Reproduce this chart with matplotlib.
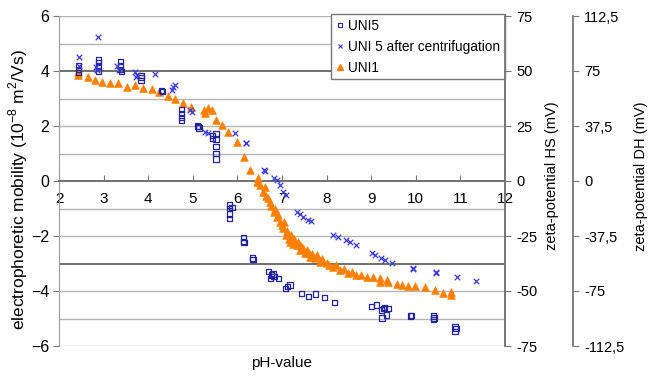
import matplotlib
matplotlib.use("Agg")
import matplotlib.pyplot as plt
from matplotlib.lines import Line2D

plt.rcParams['font.family'] = ['Liberation Sans', 'DejaVu Sans']

# ---------------- data ----------------
uni5_ph = [2.43, 2.43, 2.43, 2.88, 2.88, 2.88, 2.88, 3.37, 3.37, 3.37, 3.40,
           3.84, 3.84, 3.84, 4.30, 4.32, 4.75, 4.75, 4.75, 4.75, 5.12, 5.14, 5.10,
           5.45, 5.45, 5.52, 5.52, 5.52, 5.52, 5.52, 5.83, 5.83, 5.83, 5.83, 5.88,
           6.13, 6.13, 6.15, 6.33, 6.35, 6.69, 6.77, 6.82, 6.92, 6.75, 6.80,
           7.07, 7.18, 7.12, 7.44, 7.59, 7.76, 7.96, 8.17,
           9.01, 9.12, 9.23, 9.27, 9.38, 9.35, 9.24, 9.30, 9.88, 9.90,
           10.39, 10.39, 10.41, 10.88, 10.88, 10.90]
uni5_mob = [4.20, 4.05, 3.95, 4.40, 4.30, 4.15, 4.00, 4.35, 4.20, 4.05, 3.97,
            3.85, 3.75, 3.65, 3.30, 3.25, 2.60, 2.45, 2.30, 2.20, 1.97, 1.93, 2.00,
            1.55, 1.65, 1.73, 1.50, 1.25, 1.00, 0.80, -0.87, -1.00, -1.20, -1.35, -0.95,
            -2.05, -2.20, -2.25, -2.80, -2.85, -3.30, -3.42, -3.48, -3.54, -3.55, -3.38,
            -3.90, -3.78, -3.85, -4.08, -4.20, -4.11, -4.23, -4.41,
            -4.57, -4.51, -4.69, -4.65, -4.65, -4.87, -4.98, -4.60, -4.91, -4.88,
            -4.91, -5.05, -4.98, -5.30, -5.48, -5.35]

cent_ph = [2.45, 2.45, 2.87, 2.84, 2.86, 3.29, 3.34, 3.70, 3.74, 3.72, 4.15,
           4.56, 4.60, 4.53, 4.94, 4.98, 5.27, 5.35, 5.95, 6.19, 6.20, 6.60, 6.62,
           6.81, 6.88, 6.96, 7.03, 7.10, 7.33, 7.40, 7.48, 7.59, 7.64,
           8.15, 8.26, 8.43, 8.52, 8.66, 9.01, 9.08, 9.23, 9.31, 9.46,
           9.94, 9.94, 10.45, 10.45, 10.92, 11.35]
cent_mob = [4.50, 4.20, 5.25, 4.15, 4.05, 4.20, 4.05, 3.97, 3.85, 3.80, 3.88,
            3.43, 3.49, 3.31, 2.58, 2.52, 1.79, 1.73, 1.73, 1.39, 1.39, 0.40, 0.35,
            0.10, 0.05, -0.15, -0.39, -0.51, -1.12, -1.20, -1.30, -1.42, -1.44,
            -1.96, -2.02, -2.15, -2.20, -2.33, -2.63, -2.69, -2.81, -2.87, -2.99,
            -3.21, -3.15, -3.36, -3.30, -3.48, -3.62]

uni1_ph = [2.43, 2.43, 2.64, 2.81, 2.96, 3.14, 3.33, 3.52, 3.70, 3.89, 4.08,
           4.24, 4.44, 4.60, 4.79, 4.96, 5.24, 5.27, 5.35, 5.42, 5.52, 5.65,
           5.80, 6.00, 6.15, 6.28, 6.43, 6.47, 6.50, 6.58, 6.62, 6.65, 6.69,
           6.73, 6.75, 6.81, 6.85, 6.88, 6.92, 6.96, 7.00, 7.03, 7.05, 7.10,
           7.12, 7.15, 7.18, 7.20, 7.25, 7.28, 7.33, 7.35, 7.40, 7.42, 7.48,
           7.52, 7.55, 7.60, 7.63, 7.68, 7.74, 7.78, 7.85, 7.90, 8.00, 8.05,
           8.15, 8.20, 8.30, 8.38, 8.49, 8.58, 8.67, 8.78, 8.90, 9.05, 9.20,
           9.20, 9.35, 9.38, 9.57, 9.70, 9.83, 9.98, 10.21, 10.43, 10.62, 10.80, 10.80]
uni1_mob = [3.97, 3.85, 3.79, 3.67, 3.61, 3.57, 3.55, 3.43, 3.49, 3.37, 3.33,
            3.25, 3.09, 3.00, 2.82, 2.70, 2.58, 2.46, 2.64, 2.60, 2.22, 2.04,
            1.79, 1.43, 0.88, 0.40, -0.03, 0.10, -0.15, -0.39, -0.21, -0.55, -0.63,
            -0.75, -0.90, -1.12, -1.00, -1.30, -1.25, -1.48, -1.60, -1.72, -1.50, -1.96,
            -1.80, -2.10, -2.20, -1.95, -2.30, -2.10, -2.33, -2.20, -2.51, -2.35, -2.45,
            -2.63, -2.50, -2.60, -2.75, -2.65, -2.81, -2.70, -2.93, -2.85, -2.99, -3.05,
            -3.12, -3.05, -3.24, -3.20, -3.36, -3.30, -3.42, -3.40, -3.48, -3.50, -3.54,
            -3.66, -3.60, -3.66, -3.75, -3.78, -3.82, -3.82, -3.84, -3.96, -4.06, -4.15, -4.05]

x_ticks = [2, 3, 4, 5, 6, 7, 8, 9, 10, 11, 12]
y_ticks = [-6, -4, -2, 0, 2, 4, 6]
hs_ticks = [-75, -50, -25, 0, 25, 50, 75]
dh_ticks = [-112.5, -75, -37.5, 0, 37.5, 75, 112.5]
dh_labels = ['-112,5', '-75', '-37,5', '0', '37,5', '75', '112,5']

# ---------------- figure ----------------
W, H = 649, 376
fig = plt.figure(figsize=(W / 100, H / 100), dpi=100)
x0, x1, y0, y1 = 59, 505, 16, 346
ax = fig.add_axes([x0 / W, 1 - y1 / H, (x1 - x0) / W, (y1 - y0) / H])

ax.set_xlim(2, 12)
ax.set_ylim(-6, 6)

# gridlines
for g in range(-6, 7):
    if g == 0:
        continue
    dark = g in (4, -3)
    ax.axhline(g, color='#555555' if dark else '#b4b4b4', lw=1.2 if dark else 1.0, zorder=0)

ax.scatter(uni1_ph, uni1_mob, marker='^', s=30, color='#ff8000', edgecolors='#ff8000',
           linewidths=0.5, zorder=3, label='UNI1')
ax.scatter(uni5_ph, uni5_mob, marker='s', s=14, facecolors='none', edgecolors='#24249a',
           linewidths=0.9, zorder=4, label='UNI5')
ax.scatter(cent_ph, cent_mob, marker='x', s=16, color='#3b3bd6', linewidths=0.9,
           zorder=5, label='UNI 5 after centrifugation')

# spines
ax.spines['top'].set_visible(False)
ax.spines['right'].set_color('#777777')
ax.spines['right'].set_linewidth(1.3)
ax.spines['left'].set_color('#999999')
ax.spines['bottom'].set_position(('data', 0))
ax.spines['bottom'].set_color('#666666')
ax.spines['bottom'].set_linewidth(1.3)

ax.set_xticks(x_ticks)
ax.set_xticklabels([str(t) for t in x_ticks])
ax.set_yticks(y_ticks)
ax.tick_params(axis='x', direction='in', length=4, color='#777777', pad=8, labelsize=11)
ax.tick_params(axis='y', direction='out', length=4, color='#777777', pad=3, labelsize=11.5)

# right axis HS
ax2 = ax.twinx()
ax2.set_ylim(-75, 75)
ax2.set_yticks(hs_ticks)
ax2.set_yticklabels([str(t) for t in hs_ticks])
ax2.tick_params(axis='y', direction='out', length=4, color='#777777', pad=4, labelsize=10.5)
for s in ('top', 'left', 'bottom'):
    ax2.spines[s].set_visible(False)
ax2.spines['right'].set_color('#777777')
ax2.spines['right'].set_linewidth(1.3)

# right axis DH
ax3 = ax.twinx()
ax3.set_ylim(-112.5, 112.5)
ax3.set_yticks(dh_ticks)
ax3.set_yticklabels(dh_labels)
ax3.spines['right'].set_position(('axes', (573 - x0) / (x1 - x0)))
for s in ('top', 'left', 'bottom'):
    ax3.spines[s].set_visible(False)
ax3.spines['right'].set_color('#777777')
ax3.spines['right'].set_linewidth(1.3)
ax3.tick_params(axis='y', direction='out', length=4, color='#777777', pad=4, labelsize=10.5)

# labels
fig.text(18 / W, 1 - 190 / H,
         r'electrophoretic mobility (10$^{\mathregular{-8}}$ m$^{\mathregular{2}}$/Vs)',
         rotation=90, ha='center', va='center', fontsize=12.5)
fig.text(282 / W, 1 - 363 / H, 'pH-value', ha='center', va='center', fontsize=11)
fig.text(552 / W, 1 - 176 / H, 'zeta-potential HS (mV)', rotation=90,
         ha='center', va='center', fontsize=10.5)
fig.text(641 / W, 1 - 176 / H, 'zeta-potential DH (mV)', rotation=90,
         ha='center', va='center', fontsize=10.5)

# legend
handles = [
    Line2D([], [], ls='none', marker='s', ms=3.5, mfc='none', mec='#24249a', mew=0.8),
    Line2D([], [], ls='none', marker='x', ms=3.5, color='#3b3bd6', mew=0.8),
    Line2D([], [], ls='none', marker='^', ms=4.5, color='#ff8000'),
]
labels = ['UNI5', 'UNI 5 after centrifugation', 'UNI1']
leg = ax.legend(handles, labels, loc='upper right', bbox_to_anchor=(1.0, 1.005),
                borderaxespad=0, fancybox=False, framealpha=1, edgecolor='#777777',
                fontsize=9.8, handlelength=0.6, handletextpad=0.3, borderpad=0.35,
                labelspacing=0.5)
leg.get_frame().set_linewidth(1.0)
leg.set_zorder(10)

fig.savefig('out.png', dpi=100)
